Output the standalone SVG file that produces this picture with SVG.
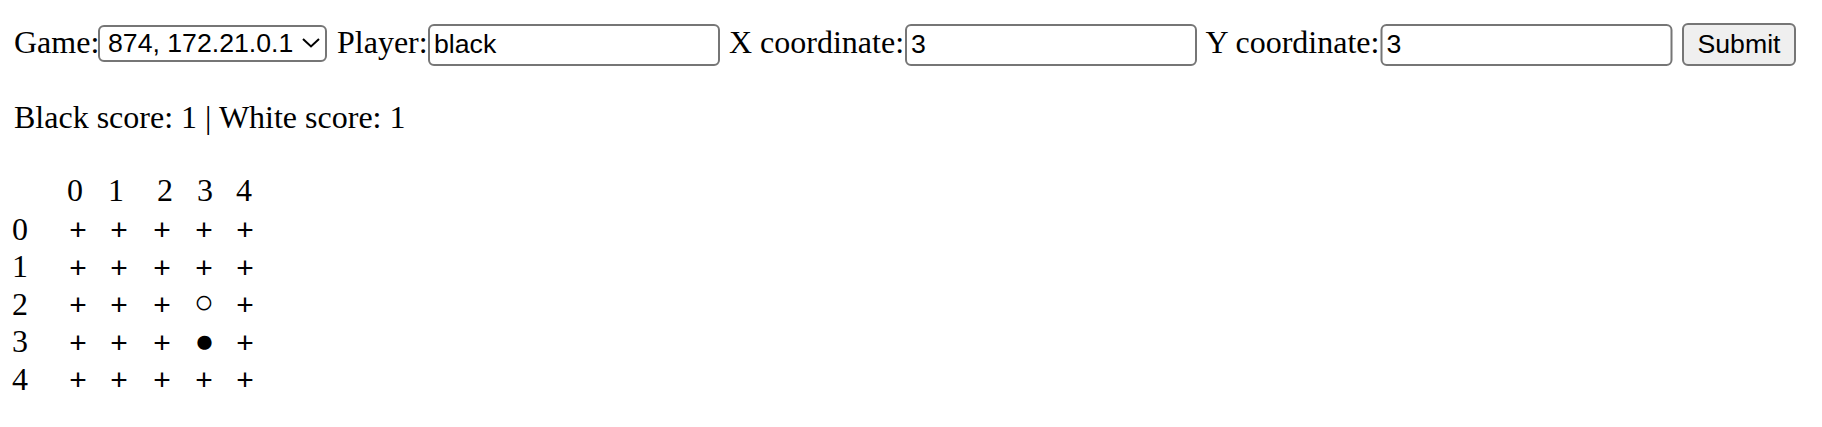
<svg xmlns="http://www.w3.org/2000/svg" width="1822" height="427" viewBox="0 0 1822 427">
<style>
.lbl{font-family:"Liberation Serif","Times New Roman",serif;font-size:32px;fill:#000}
.ctl{font-family:"Liberation Sans",Arial,sans-serif;font-size:26.67px;fill:#000}
.box{fill:#fff;stroke:#767676;stroke-width:2}
.btn{fill:#efefef;stroke:#767676;stroke-width:2}
.pl{font-family:"Liberation Sans",Arial,sans-serif;font-size:30px;fill:#000;text-anchor:middle}
.st{font-family:"Liberation Sans","DejaVu Sans",sans-serif;font-size:33px;fill:#000;text-anchor:middle}
</style>
<rect width="1822" height="427" fill="#fff"/>
<g id="form">
  <text class="lbl" x="14" y="53">Game:</text>
  <g id="game-select">
    <rect class="box" x="99" y="26" width="227" height="35" rx="5"/>
    <text class="ctl" x="108" y="52">874, 172.21.0.1</text>
    <polyline points="303,39 311,46.5 319,39" fill="none" stroke="#000" stroke-width="2"/>
  </g>
  <text class="lbl" x="337" y="53">Player:</text>
  <g id="player-input">
    <rect class="box" x="429" y="25" width="290" height="40" rx="5"/>
    <text class="ctl" x="434" y="52.5">black</text>
  </g>
  <text class="lbl" x="729" y="53">X coordinate:</text>
  <g id="x-input">
    <rect class="box" x="906" y="25" width="290" height="40" rx="5"/>
    <text class="ctl" x="911" y="52.5">3</text>
  </g>
  <text class="lbl" x="1205.5" y="53">Y coordinate:</text>
  <g id="y-input">
    <rect class="box" x="1381.5" y="25" width="290" height="40" rx="5"/>
    <text class="ctl" x="1386.5" y="52.5">3</text>
  </g>
  <g id="submit">
    <rect class="btn" x="1683" y="24" width="112" height="41" rx="5"/>
    <text class="ctl" x="1739" y="52.5" text-anchor="middle">Submit</text>
  </g>
</g>
<g id="score">
  <text class="lbl" x="14" y="128">Black score: 1 | White score: 1</text>
</g>
<g id="board">
  <g id="col-headers">
    <text class="lbl" x="67" y="201">0</text>
    <text class="lbl" x="108" y="201">1</text>
    <text class="lbl" x="157" y="201">2</text>
    <text class="lbl" x="197" y="201">3</text>
    <text class="lbl" x="236" y="201">4</text>
  </g>
  <g id="row-labels">
    <text class="lbl" x="12" y="239.5">0</text>
    <text class="lbl" x="12" y="277">1</text>
    <text class="lbl" x="12" y="314.5">2</text>
    <text class="lbl" x="12" y="352">3</text>
    <text class="lbl" x="12" y="389.5">4</text>
  </g>
  <g id="row0">
    <text class="pl" x="78" y="240">+</text><text class="pl" x="119" y="240">+</text><text class="pl" x="162" y="240">+</text><text class="pl" x="204" y="240">+</text><text class="pl" x="245" y="240">+</text>
  </g>
  <g id="row1">
    <text class="pl" x="78" y="277.5">+</text><text class="pl" x="119" y="277.5">+</text><text class="pl" x="162" y="277.5">+</text><text class="pl" x="204" y="277.5">+</text><text class="pl" x="245" y="277.5">+</text>
  </g>
  <g id="row2">
    <text class="pl" x="78" y="315">+</text><text class="pl" x="119" y="315">+</text><text class="pl" x="162" y="315">+</text><text class="st" x="204" y="312.5">○</text><text class="pl" x="245" y="315">+</text>
  </g>
  <g id="row3">
    <text class="pl" x="78" y="352.5">+</text><text class="pl" x="119" y="352.5">+</text><text class="pl" x="162" y="352.5">+</text><text class="st" x="204.5" y="352">●</text><text class="pl" x="245" y="352.5">+</text>
  </g>
  <g id="row4">
    <text class="pl" x="78" y="390">+</text><text class="pl" x="119" y="390">+</text><text class="pl" x="162" y="390">+</text><text class="pl" x="204" y="390">+</text><text class="pl" x="245" y="390">+</text>
  </g>
</g>
</svg>
